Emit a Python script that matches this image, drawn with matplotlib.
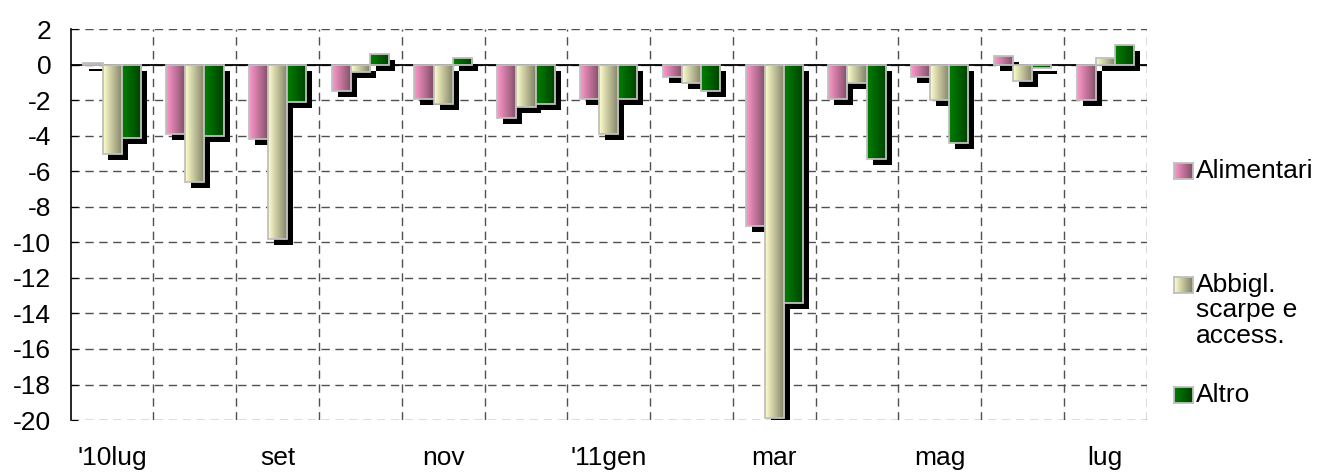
import numpy as np
import matplotlib
matplotlib.use("Agg")
import matplotlib.pyplot as plt
from matplotlib.colors import LinearSegmentedColormap
from matplotlib import patheffects as pe

plt.rcParams['font.family'] = ['Liberation Sans', 'DejaVu Sans']
plt.rcParams['axes.unicode_minus'] = False

# dati: variazioni per mese (lug 2010 - lug 2011)
mesi = ["lug", "ago", "set", "ott", "nov", "dic", "gen",
        "feb", "mar", "apr", "mag", "giu", "lug"]
etichette = ["'10lug", "", "set", "", "nov", "", "'11gen",
             "", "mar", "", "mag", "", "lug"]
alimentari = [0.1, -3.9, -4.2, -1.5, -1.9, -3.0, -1.9, -0.7, -9.1, -1.9, -0.7, 0.5, -2.0]
abbigl = [-5.0, -6.6, -9.8, -0.4, -2.2, -2.4, -3.9, -1.0, -19.9, -1.0, -2.0, -0.9, 0.4]
altro = [-4.1, -4.0, -2.1, 0.6, 0.4, -2.2, -1.9, -1.5, -13.4, -5.3, -4.4, -0.2, 1.1]

serie = [
    ("Alimentari", alimentari, "#ff99cc"),
    ("Abbigl.\nscarpe e\naccess.", abbigl, "#ffffcc"),
    ("Altro", altro, "#008000"),
]

FS = 19


def make_cmap(c):
    rgb = np.array(matplotlib.colors.to_rgb(c))
    return LinearSegmentedColormap.from_list("g", [rgb, rgb * 0.5])


grad = np.linspace(0, 1, 64).reshape(1, -1)

fig = plt.figure(figsize=(13.19, 4.73), dpi=100)
ax = fig.add_axes([0.0536, 0.112, 0.8158, 0.826])

x = np.arange(len(mesi)) + 0.5
w = 0.231
shadow = [pe.SimplePatchShadow(offset=(4.3, -4.3), shadow_rgbFace='black', alpha=1.0),
          pe.Normal()]

for k, (nome, vals, col) in enumerate(serie):
    z = 3 + k
    bars = ax.bar(x + (k - 1) * w, vals, w, color=col, edgecolor='none',
                  zorder=z, path_effects=shadow)
    cmap = make_cmap(col)
    for b in bars:
        x0, y0 = b.get_x(), b.get_y()
        im = ax.imshow(grad, extent=[x0, x0 + b.get_width(), y0, y0 + b.get_height()],
                       aspect='auto', cmap=cmap, zorder=z + 0.1, interpolation='bilinear')
        im.set_clip_path(b)
    ax.bar(x + (k - 1) * w, vals, w, fill=False, edgecolor='#c0c0c0',
           linewidth=1.3, zorder=z + 0.2)

ax.axhline(0, color='black', lw=1.3, zorder=2.5)

ax.set_xlim(0, len(mesi))
ax.set_ylim(-20, 2)
ax.set_yticks(np.arange(-20, 3, 2))
ax.set_xticks(x)
ax.set_xticklabels(etichette, fontsize=FS)
ax.set_xticks(np.arange(1, len(mesi) + 1), minor=True)
ax.tick_params(axis='x', which='both', length=0, pad=19)
ax.tick_params(axis='y', labelsize=FS, direction='in', length=5, pad=14)

ax.grid(False)
ax.yaxis.grid(True, which='major', color='#505050', linestyle=(0, (6, 4)), lw=1.0, zorder=1)
ax.xaxis.grid(True, which='minor', color='#505050', linestyle=(0, (6, 4)), lw=1.0, zorder=1)

for s in ['top', 'right', 'bottom']:
    ax.spines[s].set_visible(False)
ax.spines['left'].set_linewidth(1.2)

# legenda costruita a mano
W, H = 1319.0, 473.0
pos_y = [171, 285, 395]
for (nome, vals, col), py in zip(serie, pos_y):
    sq = fig.add_axes([1174 / W, 1 - (py + 8) / H, 19 / W, 16 / H])
    sq.imshow(grad, aspect='auto', cmap=make_cmap(col))
    sq.set_xticks([])
    sq.set_yticks([])
    for sp in sq.spines.values():
        sp.set_color('#c0c0c0')
        sp.set_linewidth(1.3)
    righe = nome.split("\n")
    for i, r in enumerate(righe):
        fig.text(1196 / W, 1 - (py + i * 25.5) / H, r, fontsize=FS, va='center', ha='left')

fig.savefig("out.png", dpi=100)
